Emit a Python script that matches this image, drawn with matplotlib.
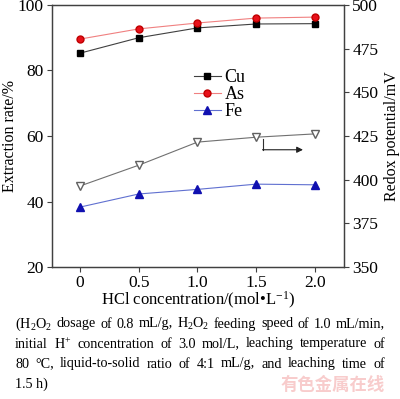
import numpy as np
import matplotlib
matplotlib.use('Agg')
import matplotlib.pyplot as plt

plt.rcParams['font.family'] = ['Liberation Serif', 'DejaVu Serif']
plt.rcParams['mathtext.fontset'] = 'custom'
plt.rcParams['mathtext.rm'] = 'Liberation Serif'
plt.rcParams['mathtext.it'] = 'Liberation Serif:italic'

# data
hcl = [0, 0.5, 1.0, 1.5, 2.0]
cu = [85.3, 90.0, 93.0, 94.2, 94.3]
arsenic = [89.6, 92.7, 94.5, 96.0, 96.3]
fe = [38.3, 42.3, 43.7, 45.3, 45.1]
redox = [396.4, 408.3, 421.5, 424.3, 426.2]

caption = ['(H$_2$O$_2$ dosage of 0.8 mL/g, H$_2$O$_2$ feeding speed of 1.0 mL/min,',
           'initial H$^{+}$ concentration of 3.0 mol/L, leaching temperature of',
           '80 \u00b0C, liquid-to-solid ratio of 4:1 mL/g, and leaching time of',
           '1.5 h)']

fig = plt.figure(figsize=(4.0, 3.99), dpi=100, facecolor='white')
ax = fig.add_axes([0.13, 0.3308, 0.73, 0.6567])
ax2 = ax.twinx()

ax.plot(hcl, cu, color='#404040', lw=0.8, marker='s', ms=5, mfc='black', mec='black', label='Cu')
ax.plot(hcl, arsenic, color='#f08080', lw=0.8, marker='o', ms=5, mfc='#e8101a', mec='#c00000', label='As')
ax.plot(hcl, fe, color='#6070d0', lw=0.8, marker='^', ms=5.5, mfc='#1010b0', mec='#1010b0', label='Fe')
ax2.plot(hcl, redox, color='#707070', lw=0.8, marker='v', ms=6, mfc='white', mec='#606060')

ax.set_xlim(-0.24, 2.25)
ax.set_ylim(20, 100)
ax2.set_ylim(350, 500)
ax.set_xticks(hcl)
ax.set_xticklabels(['0', '0.5', '1.0', '1.5', '2.0'])
ax.set_yticks([20, 40, 60, 80, 100])
ax2.set_yticks([350, 375, 400, 425, 450, 475, 500])

for a in (ax, ax2):
    a.tick_params(direction='out', length=3.5, width=0.8, labelsize=12.5, color='#404040', pad=2.5)
    for s in a.spines.values():
        s.set_color('#404040')
        s.set_linewidth(0.9)
ax.tick_params(axis='x', pad=2)

ax.set_xlabel('HCl concentration/(mol\u2022L$^{-1}$)', fontsize=12)
ax.set_ylabel('Extraction rate/%', fontsize=11.5)
ax2.set_ylabel('Redox potential/mV', fontsize=11.5)
ax.xaxis.set_label_coords(0.5, -0.126)
ax.xaxis.label.set_va('center')
ax.yaxis.set_label_coords(-0.145, 0.5)
ax.yaxis.label.set_va('center')
ax2.yaxis.set_label_coords(1.163, 0.5)
ax2.yaxis.label.set_va('center')

# arrow pointing at the right axis
ax.plot([1.56, 1.56], [59.2, 55.8], color='#303030', lw=0.8)
ax.annotate('', xy=(1.90, 55.8), xytext=(1.555, 55.8),
            arrowprops=dict(arrowstyle='-|>', color='#202020', lw=0.8,
                            mutation_scale=9, shrinkA=0, shrinkB=0))

ax.legend(loc='upper left', bbox_to_anchor=(0.455, 0.79), frameon=False, fontsize=13,
          handlelength=1.5, handletextpad=0.2, labelspacing=0.0, borderpad=0)

# justified caption
fig.canvas.draw()
renderer = fig.canvas.get_renderer()
x0, x1 = 15 / 400, 385 / 400
for i, line in enumerate(caption):
    y = 1 - (324 + 20 * i) / 399
    words = line.split(' ')
    if i == len(caption) - 1:
        fig.text(x0, y, line, fontsize=10.2, va='center', ha='left')
        continue
    arts = [fig.text(x0, y, w, fontsize=10.2, va='center', ha='left') for w in words]
    widths = [a.get_window_extent(renderer).width / 400 for a in arts]
    gap = max((x1 - x0 - sum(widths)) / (len(words) - 1), 1.5 / 400)
    xpos = x0
    for a, w in zip(arts, widths):
        a.set_x(xpos)
        xpos += w + gap

fig.text(0.962, 1 - 385 / 399, '有色金属在线', fontsize=12.5, color='#f8cccc',
         family=['Noto Sans CJK SC'], ha='right', va='center', fontweight='bold')

fig.savefig('out.png', dpi=100)
